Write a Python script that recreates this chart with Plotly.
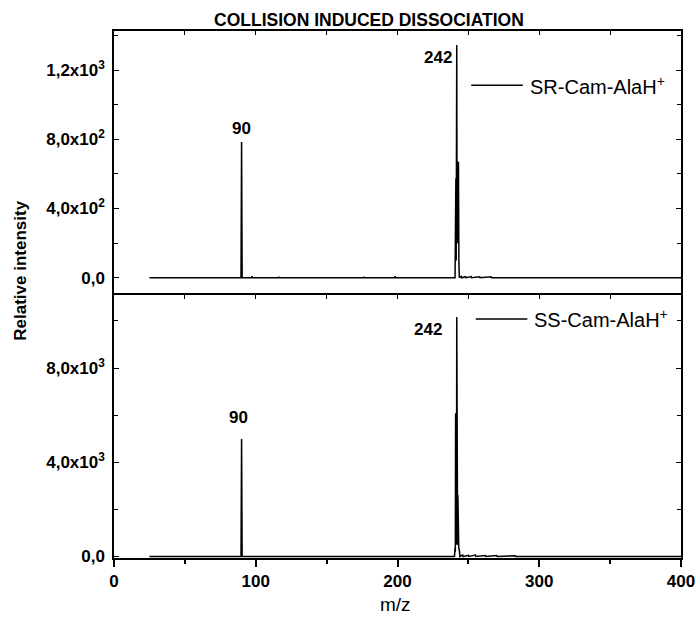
import plotly.graph_objects as go

# ---------------- data ----------------
# SR-Cam-AlaH+ (top panel)
mz_sr = [25, 89.6, 90.0, 90.4, 97.0, 97.3, 97.6, 116.0, 116.3, 116.6, 176.0, 176.3, 176.6,
         198.0, 198.3, 198.6, 240.6, 240.8, 241.0, 241.2, 241.4, 241.6, 241.8, 242.0, 242.2,
         242.4, 242.6, 242.8, 243.0, 243.3, 243.6, 245.0, 245.3, 248.0, 248.3, 252.0, 252.3,
         258.0, 258.3, 266.0, 266.3, 400]
int_sr = [0, 0, 784, 0, 0, 8, 0, 0, 6, 0, 0, 6, 0,
          0, 8, 0, 0, 575, 100, 575, 100, 575, 1345, 300, 671,
          200, 671, 200, 671, 100, 0, 8, 0, 6, 0, 7, 0,
          5, 0, 5, 0, 0]

# SS-Cam-AlaH+ (bottom panel)
mz_ss = [25, 89.6, 90.0, 90.4, 240.2, 240.6, 240.8, 241.0, 241.2, 241.4, 241.6, 241.8, 242.0,
         242.2, 242.4, 242.6, 242.8, 243.0, 243.2, 243.6, 244.0, 246.0, 246.3, 250.0, 250.3,
         255.0, 255.3, 262.0, 262.3, 270.0, 270.3, 283.0, 283.3, 400]
int_ss = [0, 0, 4990, 0, 0, 360, 200, 6080, 500, 6080, 500, 10170, 1500,
          2610, 500, 2610, 500, 2610, 360, 300, 0, 60, 0, 50, 0,
          60, 0, 40, 0, 40, 0, 30, 0, 0]

series_names = ["SR-Cam-AlaH<sup>+</sup>", "SS-Cam-AlaH<sup>+</sup>"]
peak_labels = ["90", "242"]
peak_mz = [90, 242]
peak_top_sr = [784, 1345]
peak_top_ss = [4990, 10170]

x_tickvals = [0, 100, 200, 300, 400]
x_ticktext = ["0", "100", "200", "300", "400"]
y1_tickvals = [0, 400, 800, 1200]
y1_ticktext = ["0,0", "4,0x10<sup>2</sup>", "8,0x10<sup>2</sup>", "1,2x10<sup>3</sup>"]
y2_tickvals = [0, 4000, 8000]
y2_ticktext = ["0,0", "4,0x10<sup>3</sup>", "8,0x10<sup>3</sup>"]

FONT = "Liberation Sans, Arial, sans-serif"

fig = go.Figure()
fig.add_trace(go.Scatter(x=mz_sr, y=int_sr, mode="lines", xaxis="x", yaxis="y",
                         line=dict(color="black", width=1.5), showlegend=False))
fig.add_trace(go.Scatter(x=mz_ss, y=int_ss, mode="lines", xaxis="x2", yaxis="y2",
                         line=dict(color="black", width=1.5), showlegend=False))
# helper empty trace for the inner tick axis on top of lower panel
fig.add_trace(go.Scatter(x=[], y=[], xaxis="x3", yaxis="y2", showlegend=False))

tickfont = dict(family=FONT, size=17, color="black", weight="bold")
split = 0.499

common_x = dict(range=[0, 400], showline=True, linecolor="black", linewidth=1.5,
                showgrid=False, zeroline=False, automargin=False)

fig.update_layout(
    width=697, height=623,
    margin=dict(l=114, r=16, t=31, b=65, autoexpand=False),
    paper_bgcolor="white", plot_bgcolor="white",
    font=dict(family=FONT, color="black"),
    xaxis=dict(**common_x, domain=[0, 1], anchor="y", side="top", mirror=False,
               ticks="inside", ticklen=4, tickcolor="black", tickwidth=1,
               tickvals=x_tickvals, showticklabels=False,
               minor=dict(ticks="inside", ticklen=4, dtick=50, tickcolor="black")),
    yaxis=dict(domain=[split, 1], anchor="x", range=[-100, 1426], showline=True,
               linecolor="black", linewidth=1.5, mirror="ticks", showgrid=False,
               zeroline=False, ticks="inside", ticklen=5, tickcolor="black",
               tickvals=y1_tickvals, ticktext=y1_ticktext, tickfont=tickfont,
               ticklabelstandoff=4, automargin=False,
               minor=dict(ticks="inside", ticklen=4, dtick=200, tickcolor="black")),
    xaxis2=dict(**common_x, domain=[0, 1], anchor="y2", side="bottom", mirror=True,
                ticks="outside", ticklen=7, tickcolor="black", tickwidth=1.5,
                tickvals=x_tickvals, ticktext=x_ticktext, tickfont=tickfont,
                minor=dict(ticks="outside", ticklen=4, dtick=50, tickcolor="black")),
    xaxis3=dict(range=[0, 400], overlaying="x2", anchor="y2", side="top",
                showline=False, showgrid=False, zeroline=False, automargin=False,
                ticks="inside", ticklen=4, tickcolor="black", tickvals=x_tickvals,
                showticklabels=False,
                minor=dict(ticks="inside", ticklen=4, dtick=50, tickcolor="black")),
    yaxis2=dict(domain=[0, split], anchor="x2", range=[-64, 11100], showline=True,
                linecolor="black", linewidth=1.5, mirror="ticks", showgrid=False,
                zeroline=False, ticks="inside", ticklen=5, tickcolor="black",
                tickvals=y2_tickvals, ticktext=y2_ticktext, tickfont=tickfont,
                ticklabelstandoff=4, automargin=False,
                minor=dict(ticks="inside", ticklen=4, dtick=2000, tickcolor="black")),
)

ann = []
# peak labels
lblfont = dict(family=FONT, size=17, color="black", weight="bold")
ann.append(dict(x=peak_mz[0], y=peak_top_sr[0], xref="x", yref="y", text=peak_labels[0],
                showarrow=False, xanchor="center", yanchor="bottom", yshift=2, font=lblfont))
ann.append(dict(x=peak_mz[1], y=peak_top_sr[1], xref="x", yref="y", text=peak_labels[1],
                showarrow=False, xanchor="right", yanchor="top", xshift=-3, yshift=-1, font=lblfont))
ann.append(dict(x=peak_mz[0], y=peak_top_ss[0], xref="x2", yref="y2", text=peak_labels[0],
                showarrow=False, xanchor="center", yanchor="bottom", xshift=-3, yshift=10, font=lblfont))
ann.append(dict(x=peak_mz[1], y=peak_top_ss[1], xref="x2", yref="y2", text=peak_labels[1],
                showarrow=False, xanchor="right", yanchor="top", xshift=-13, yshift=-1, font=lblfont))

# legends (drawn as line + text in panel domain coordinates)
legfont = dict(family=FONT, size=20, color="black")
ann.append(dict(x=0.730, y=0.795, xref="x domain", yref="y domain", text=series_names[0],
                showarrow=False, xanchor="left", yanchor="middle", font=legfont))
ann.append(dict(x=0.738, y=0.909, xref="x2 domain", yref="y2 domain", text=series_names[1],
                showarrow=False, xanchor="left", yanchor="middle", font=legfont))
shapes = [
    dict(type="line", xref="x domain", yref="y domain", x0=0.630, x1=0.721, y0=0.795, y1=0.795,
         line=dict(color="black", width=1.5)),
    dict(type="line", xref="x2 domain", yref="y2 domain", x0=0.638, x1=0.729, y0=0.909, y1=0.909,
         line=dict(color="black", width=1.5)),
]

# titles
ann.append(dict(x=0.45, y=1, xref="paper", yref="paper", text="COLLISION INDUCED DISSOCIATION",
                showarrow=False, xanchor="center", yanchor="bottom", yshift=-1,
                font=dict(family=FONT, size=17.5, color="black", weight="bold")))
ann.append(dict(x=-0.165, y=0.546, xref="paper", yref="paper", text="Relative intensity",
                showarrow=False, xanchor="center", yanchor="middle", textangle=-90,
                font=dict(family=FONT, size=17, color="black", weight="bold")))
ann.append(dict(x=0.4965, y=-0.089, xref="paper", yref="paper", text="m/z",
                showarrow=False, xanchor="center", yanchor="middle",
                font=dict(family=FONT, size=19, color="black")))

fig.update_layout(annotations=ann, shapes=shapes)
fig.write_html("out.html", config={"displayModeBar": False},
               post_script="document.body.style.margin='0';document.body.style.overflow='hidden';")
